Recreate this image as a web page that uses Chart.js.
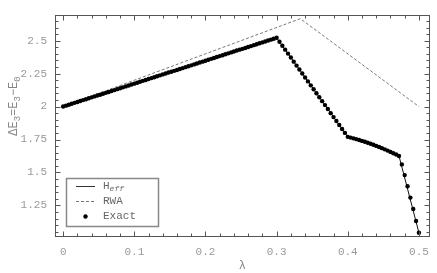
<!DOCTYPE html>
<html><head><meta charset="utf-8">
<script src="https://cdn.jsdelivr.net/npm/chart.js@4/dist/chart.umd.min.js"></script>
<style>html,body{margin:0;padding:0;background:#fff}</style>
</head><body>
<canvas id="c" width="437" height="273" style="display:block;width:437px;height:273px"></canvas>
<script>
// ---- data ----
const lambdaExact = [
0,0.004,0.008,0.012,0.016,0.02,0.024,0.028,0.032,0.036,
0.04,0.044,0.048,0.052,0.056,0.06,0.064,0.068,0.072,0.076,
0.08,0.084,0.088,0.092,0.096,0.1,0.104,0.108,0.112,0.116,
0.12,0.124,0.128,0.132,0.136,0.14,0.144,0.148,0.152,0.156,
0.16,0.164,0.168,0.172,0.176,0.18,0.184,0.188,0.192,0.196,
0.2,0.204,0.208,0.212,0.216,0.22,0.224,0.228,0.232,0.236,
0.24,0.244,0.248,0.252,0.256,0.26,0.264,0.268,0.272,0.276,
0.28,0.284,0.288,0.292,0.296,0.3,0.304,0.308,0.312,0.316,
0.32,0.324,0.328,0.332,0.336,0.34,0.344,0.348,0.352,0.356,
0.36,0.364,0.368,0.372,0.376,0.38,0.384,0.388,0.392,0.396,
0.4,0.404,0.408,0.412,0.416,0.42,0.424,0.428,0.432,0.436,
0.44,0.444,0.448,0.452,0.456,0.46,0.464,0.468,0.472,0.476,
0.48,0.484,0.488,0.492,0.496,0.5];
const exactValues = [
2.000,2.007,2.014,2.021,2.028,2.035,2.042,2.049,2.056,2.063,
2.070,2.077,2.084,2.090,2.097,2.104,2.111,2.118,2.125,2.132,
2.139,2.146,2.153,2.160,2.167,2.174,2.181,2.188,2.195,2.202,
2.209,2.216,2.223,2.230,2.237,2.244,2.251,2.258,2.264,2.271,
2.278,2.285,2.292,2.299,2.306,2.313,2.320,2.327,2.334,2.341,
2.348,2.355,2.362,2.369,2.376,2.383,2.390,2.397,2.404,2.411,
2.418,2.425,2.432,2.438,2.445,2.452,2.459,2.466,2.473,2.480,
2.487,2.494,2.501,2.508,2.515,2.522,2.492,2.462,2.432,2.402,
2.372,2.341,2.311,2.281,2.251,2.221,2.191,2.161,2.131,2.101,
2.071,2.041,2.011,1.981,1.950,1.920,1.890,1.860,1.830,1.800,
1.770,1.7645,1.7587,1.7526,1.7462,1.7395,1.7325,1.7252,1.7176,1.7097,
1.7015,1.6930,1.6842,1.6751,1.6657,1.6560,1.6460,1.6357,1.6251,1.561,
1.480,1.395,1.309,1.222,1.132,1.042];
const heffLambda = [0,0.3,0.4,0.412,0.424,0.436,0.448,0.46,0.472,0.5];
const heffValues = [2.0,2.522,1.770,1.7526,1.7325,1.7097,1.6842,1.6560,1.6251,1.042];
const rwaLambda = [0,0.3333,0.5];
const rwaValues = [2.0,2.667,2.0];
const xTicks = [0,0.02,0.04,0.06,0.08,0.1,0.12,0.14,0.16,0.18,0.2,0.22,0.24,0.26,0.28,0.3,0.32,0.34,0.36,0.38,0.4,0.42,0.44,0.46,0.48,0.5];
const xMajor = [0,0.1,0.2,0.3,0.4,0.5];
const xLabels = ['0','0.1','0.2','0.3','0.4','0.5'];
const yTicks = [1.05,1.1,1.15,1.2,1.25,1.3,1.35,1.4,1.45,1.5,1.55,1.6,1.65,1.7,1.75,1.8,1.85,1.9,1.95,2,2.05,2.1,2.15,2.2,2.25,2.3,2.35,2.4,2.45,2.5,2.55,2.6,2.65];
const yMajor = [1.25,1.5,1.75,2,2.25,2.5];
const yLabels = ['1.25','1.5','1.75','2','2.25','2.5'];
const legendNames = ['H','RWA','Exact'];

// ---- helpers ----
function labelOf(v, majors, labels){
  for (let i=0;i<majors.length;i++) if (Math.abs(v-majors[i])<1e-6) return labels[i];
  return '';
}
const MONO = "'Liberation Mono','DejaVu Sans Mono',monospace";
const pts = (xs, ys) => xs.map((x,i)=>({x:x, y:ys[i]}));

const framePlugin = {
  id:'frame',
  afterDraw(chart){
    const ctx = chart.ctx, a = chart.chartArea, xs = chart.scales.x, ys = chart.scales.y;
    ctx.save();
    ctx.strokeStyle = '#555'; ctx.lineWidth = 1;
    const L = Math.round(a.left)+0.5, R = Math.round(a.right)-0.5, T = Math.round(a.top)+0.5, B = Math.round(a.bottom)-0.5;
    ctx.strokeRect(L, T, R-L, B-T);
    ctx.beginPath();
    xTicks.forEach(v=>{
      const p = Math.round(xs.getPixelForValue(v))+0.5;
      const len = labelOf(v,xMajor,xLabels)!=='' ? 5 : 3;
      ctx.moveTo(p,B); ctx.lineTo(p,B-len);
      ctx.moveTo(p,T); ctx.lineTo(p,T+len);
    });
    yTicks.forEach(v=>{
      const p = Math.round(ys.getPixelForValue(v))+0.5;
      const len = labelOf(v,yMajor,yLabels)!=='' ? 5 : 3;
      ctx.moveTo(L,p); ctx.lineTo(L+len,p);
      ctx.moveTo(R,p); ctx.lineTo(R-len,p);
    });
    ctx.stroke();

    // x title
    ctx.fillStyle = '#888';
    ctx.font = "12px " + MONO;
    ctx.textAlign = 'center'; ctx.textBaseline = 'middle';
    ctx.fillText('λ', (a.left+a.right)/2, 266);

    // y title with subscripts
    const parts = [['ΔE',0],['3',1],['=E',0],['3',1],['−E',0],['0',1]];
    const fMain = "12px " + MONO, fSub = "9px " + MONO;
    let total = 0;
    parts.forEach(p=>{ ctx.font = p[1]?fSub:fMain; total += ctx.measureText(p[0]).width; });
    ctx.save();
    ctx.translate(14, 106);
    ctx.rotate(-Math.PI/2);
    ctx.textAlign = 'left'; ctx.textBaseline = 'alphabetic';
    let cx = -total/2;
    parts.forEach(p=>{
      ctx.font = p[1]?fSub:fMain;
      ctx.fillText(p[0], cx, p[1]?6:3);
      cx += ctx.measureText(p[0]).width;
    });
    ctx.restore();

    // legend
    const bx = 66, by = 178, bw = 92, bh = 48;
    ctx.strokeStyle = '#888'; ctx.lineWidth = 1.5;
    ctx.strokeRect(bx+0.5, by+0.5, bw, bh);
    const rows = [186, 201, 216];
    ctx.lineWidth = 1;
    ctx.strokeStyle = '#333';
    ctx.beginPath(); ctx.moveTo(76, rows[0]+0.5); ctx.lineTo(95, rows[0]+0.5); ctx.stroke();
    ctx.strokeStyle = '#777'; ctx.setLineDash([3,2]);
    ctx.beginPath(); ctx.moveTo(76, rows[1]+0.5); ctx.lineTo(95, rows[1]+0.5); ctx.stroke();
    ctx.setLineDash([]);
    ctx.fillStyle = '#000';
    ctx.beginPath(); ctx.arc(85.5, rows[2]+0.5, 2.2, 0, Math.PI*2); ctx.fill();
    ctx.fillStyle = '#666';
    ctx.textAlign = 'left'; ctx.textBaseline = 'middle';
    ctx.font = "11px " + MONO;
    ctx.fillText(legendNames[0], 103, rows[0]);
    const hw = ctx.measureText(legendNames[0]).width;
    ctx.font = "italic 8px " + MONO;
    ctx.fillText('eff', 103+hw, rows[0]+3);
    ctx.font = "11px " + MONO;
    ctx.fillText(legendNames[1], 103, rows[1]);
    ctx.fillText(legendNames[2], 103, rows[2]);
    ctx.restore();
  }
};

new Chart(document.getElementById('c'), {
  type: 'scatter',
  data: {
    datasets: [
      { label:'Exact', type:'scatter', data: pts(lambdaExact, exactValues), pointRadius:2.2, pointBackgroundColor:'#000', pointBorderWidth:0, order:0 },
      { label:'H_eff', type:'line', data: pts(heffLambda, heffValues), borderColor:'#111', borderWidth:1, pointRadius:0, tension:0, fill:false, order:1 },
      { label:'RWA', type:'line', data: pts(rwaLambda, rwaValues), borderColor:'#777', borderWidth:1, borderDash:[3,2], pointRadius:0, tension:0, fill:false, order:2 }
    ]
  },
  options: {
    responsive:false, animation:false, devicePixelRatio:1,
    layout:{ padding:{ top:7, right:6, left:0, bottom:0 } },
    plugins:{ legend:{display:false}, tooltip:{enabled:false} },
    scales:{
      x:{ type:'linear', min:-0.0115, max:0.5151,
        afterBuildTicks: s => { s.ticks = xTicks.map(v=>({value:v})); },
        afterFit: s => { s.height = 36; },
        grid:{ display:false, drawTicks:false }, border:{ display:false },
        ticks:{ autoSkip:false, maxRotation:0, padding:8, color:'#999', font:{ family:MONO, size:11 },
          callback: v => labelOf(v, xMajor, xLabels) } },
      y:{ type:'linear', min:1.01, max:2.698,
        afterBuildTicks: s => { s.ticks = yTicks.map(v=>({value:v})); },
        afterFit: s => { s.width = 55; },
        grid:{ display:false, drawTicks:false }, border:{ display:false },
        ticks:{ autoSkip:false, padding:8, color:'#999', font:{ family:MONO, size:11 },
          callback: v => labelOf(v, yMajor, yLabels) } }
    }
  },
  plugins:[framePlugin]
});
</script>
</body></html>
